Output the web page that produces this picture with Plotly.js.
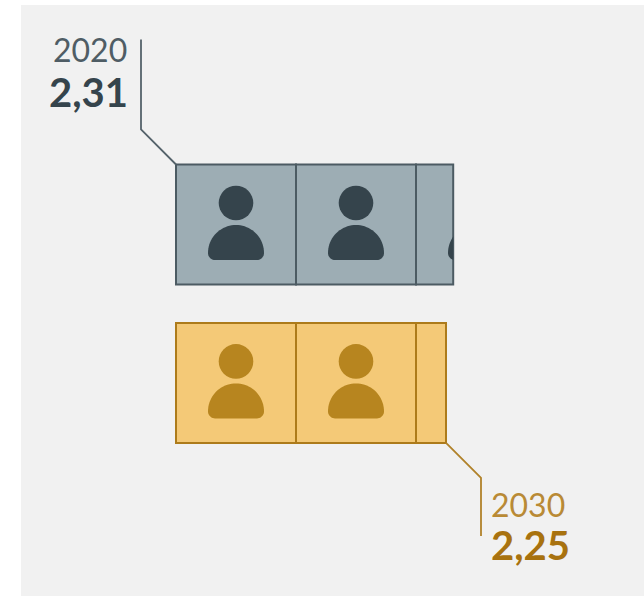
<!DOCTYPE html>
<html><head><meta charset="utf-8">
<script src="https://cdn.plot.ly/plotly-3.0.0.min.js"></script>
<style>html,body{margin:0;padding:0;background:#fff}</style></head>
<body><div id="chart" style="width:644px;height:596px"></div>
<script>
const years = ["2020", "2030"];
const labels = ["2,31", "2,25"];
const values = [2.31, 2.25];
const rowPos = [0, 1.32];
const fills = ["#9dadb4", "#f4c977"];
const lines = ["#4c5b63", "#ad7b1b"];
const icons = ["#35444c", "#b7851f"];
const yearColors = ["#4f5d65", "#b98a35"];
const valueColors = ["#35444c", "#a8720f"];

const U = 120; // px per person
const traces = [];
const shapes = [];
const annotations = [];

function bodyPath(cx, cy, limit) {
  const pts = [];
  const R = 28 / U, r = 7 / U, top = 0.5 / U, h = 35.5 / U;
  const n = 40;
  for (let i = 0; i <= n; i++) {
    const a = Math.PI - Math.PI * i / n;
    pts.push([cx + R * Math.cos(a), cy + top + R - R * Math.sin(a)]);
  }
  for (let i = 0; i <= 10; i++) {
    const a = Math.PI / 2 * i / 10;
    pts.push([cx + R - r + r * Math.cos(a), cy + h - r + r * Math.sin(a)]);
  }
  for (let i = 0; i <= 10; i++) {
    const a = Math.PI / 2 + Math.PI / 2 * i / 10;
    pts.push([cx - R + r + r * Math.cos(a), cy + h - r + r * Math.sin(a)]);
  }
  return "M" + pts.map(p => Math.min(p[0], limit).toFixed(4) + "," + p[1].toFixed(4)).join("L") + "Z";
}

values.forEach((v, i) => {
  const whole = Math.floor(v);
  const segs = [];
  for (let k = 0; k < whole; k++) segs.push(1);
  segs.push(v - whole);
  let base = 0;
  segs.forEach(s => {
    traces.push({
      type: "bar", orientation: "h", x: [s], y: [rowPos[i]], base: [base], width: [1],
      marker: { color: fills[i], line: { color: lines[i], width: 2 } },
      hoverinfo: "skip", showlegend: false
    });
    base += s;
  });
  const count = Math.ceil(v);
  for (let k = 0; k < count; k++) {
    const cx = k + 0.5;
    const cy = rowPos[i];
    if (cx - 28 / U < v) {
      shapes.push({ type: "path", xref: "x", yref: "y", path: bodyPath(cx, cy, v),
        fillcolor: icons[i], line: { width: 0 }, layer: "above" });
    }
    const hr = 17.3 / U, hy = -21.5 / U;
    if (cx - hr < v) {
      shapes.push({ type: "circle", xref: "x", yref: "y", x0: cx - hr, x1: cx + hr,
        y0: cy + hy - hr, y1: cy + hy + hr, fillcolor: icons[i], line: { width: 0 }, layer: "above" });
    }
  }
});

// Leader lines
const d = 35 / U;
shapes.push({ type: "path", xref: "x", yref: "y",
  path: `M0,${rowPos[0] - 0.5} L${-d},${rowPos[0] - 0.5 - d} L${-d},${rowPos[0] - 0.5 - d - 90 / U}`,
  line: { color: "#55636b", width: 1.8 }, layer: "above" });
shapes.push({ type: "path", xref: "x", yref: "y",
  path: `M${values[1]},${rowPos[1] + 0.5} L${values[1] + d},${rowPos[1] + 0.5 + d} L${values[1] + d},${rowPos[1] + 0.5 + d + 58 / U}`,
  line: { color: "#b1822a", width: 1.8 }, layer: "above" });

const font = "Lato, 'Open Sans', sans-serif";
function note(text, x, y, anchor, size, color, bold) {
  annotations.push({ xref: "x", yref: "y", x, y, text: bold ? `<b>${text}</b>` : text, showarrow: false,
    xanchor: anchor, yanchor: "middle", xshift: 0, yshift: 0, borderpad: 0,
    font: { family: font, size, color } });
}
note(years[0], -d - 13 / U, rowPos[0] - 175 / U, "right", 32, yearColors[0], false);
note(labels[0], -d - 12 / U, rowPos[0] - 133 / U, "right", 40, valueColors[0], true);
note(years[1], values[1] + d + 9 / U, rowPos[1] + 122 / U, "left", 32, yearColors[1], false);
note(labels[1], values[1] + d + 9 / U, rowPos[1] + 162 / U, "left", 40, valueColors[1], true);

const layout = {
  width: 644, height: 596,
  margin: { l: 21, r: 0, t: 5, b: 0, pad: 0 },
  paper_bgcolor: "#ffffff", plot_bgcolor: "#f1f1f1",
  barmode: "overlay", showlegend: false,
  xaxis: { range: [-155 / U, 468 / U], visible: false, fixedrange: true },
  yaxis: { range: [(596 - 224.5) / U, (5 - 224.5) / U], visible: false, fixedrange: true },
  shapes, annotations
};
Plotly.newPlot("chart", traces, layout, { displayModeBar: false, staticPlot: true });
</script></body></html>
